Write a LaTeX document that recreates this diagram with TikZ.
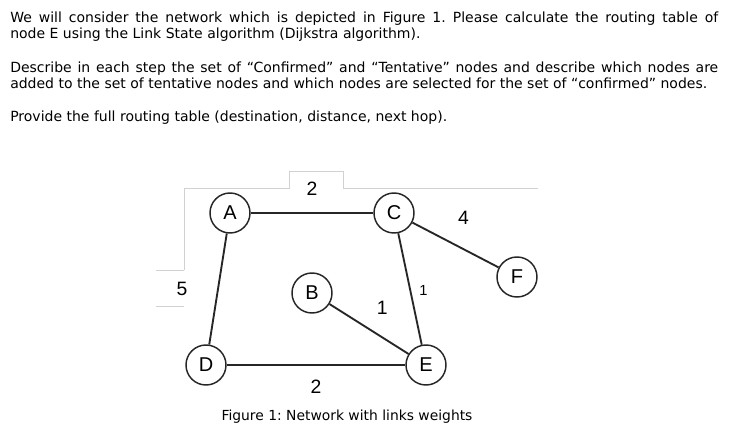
\documentclass[tikz,border=0pt]{standalone}
\usepackage{fontspec}
\setmainfont{DejaVu Sans}
\newfontfamily\figfont{Liberation Sans}
\frenchspacing
\tikzset{
  router/.style  = {circle, draw=black!85, line width=1.1pt, inner sep=0pt,
                    minimum size=30pt, font=\figfont\fontsize{15}{15}\selectfont},
  link/.style    = {line width=1.4pt, draw=black!85},
  weight/.style  = {font=\figfont\fontsize{14.5}{14.5}\selectfont, inner sep=0pt},
  lweight/.style = {font=\figfont\fontsize{11}{11}\selectfont, inner sep=0pt},
  para/.style    = {anchor=base west, inner sep=0pt, text width=531pt,
                    align=justify, font=\fontsize{10.5}{11.6}\selectfont},
  frame/.style   = {draw=black!18, line width=0.6pt},
}

\begin{document}
\begin{tikzpicture}[x=0.75pt, y=-0.75pt]
  \fill[white] (0,0) rectangle (738,435);
  \useasboundingbox (0,0) rectangle (738,435);

  % Question text
  \node[para] (intro) at (10,23)
    {We will consider the network which is depicted in Figure 1. Please calculate the routing table of\linebreak
     node E using the Link State algorithm (Dijkstra algorithm).};
  \node[para] (steps) at (10,73)
    {Describe in each step the set of “Confirmed” and “Tentative” nodes and describe which nodes are\linebreak
     added to the set of tentative nodes and which nodes are selected for the set of “confirmed” nodes.};
  \node[para] (table) at (10,121)
    {Provide the full routing table (destination, distance, next hop).};

  % Leftover frame lines around the figure
  \draw[frame] (184,270) -- (184,188) -- (289,188) -- (289,171) -- (343,171)
               -- (343,188) -- (538,188);
  \draw[frame] (156,270) -- (184,270);
  \draw[frame] (156,306) -- (184,306);

  % Routers
  \node[router] (A) at (230,213) {A};
  \node[router] (C) at (394,213) {C};
  \node[router] (B) at (312,293) {B};
  \node[router] (F) at (517,277) {F};
  \node[router] (D) at (206,365) {D};
  \node[router] (E) at (426,365) {E};

  % Links with weights
  \draw[link] (A) -- node[weight, midway, yshift=18pt] {2} (C);
  \draw[link] (C) -- node[weight, midway, xshift=6pt, yshift=20pt] {4} (F);
  \draw[link] (A) -- node[weight, midway, xshift=-27pt] {5} (D);
  \draw[link] (C) -- node[lweight, midway, xshift=10pt, yshift=-1pt] {1} (E);
  \draw[link] (B) -- node[weight, midway, xshift=10pt, yshift=16pt] {1} (E);
  \draw[link] (D) -- node[weight, midway, yshift=-16pt] {2} (E);

  % Caption
  \node[font=\fontsize{10.4}{12}\selectfont, inner sep=0pt] (caption) at (347,417)
    {Figure 1: Network with links weights};
\end{tikzpicture}
\end{document}
